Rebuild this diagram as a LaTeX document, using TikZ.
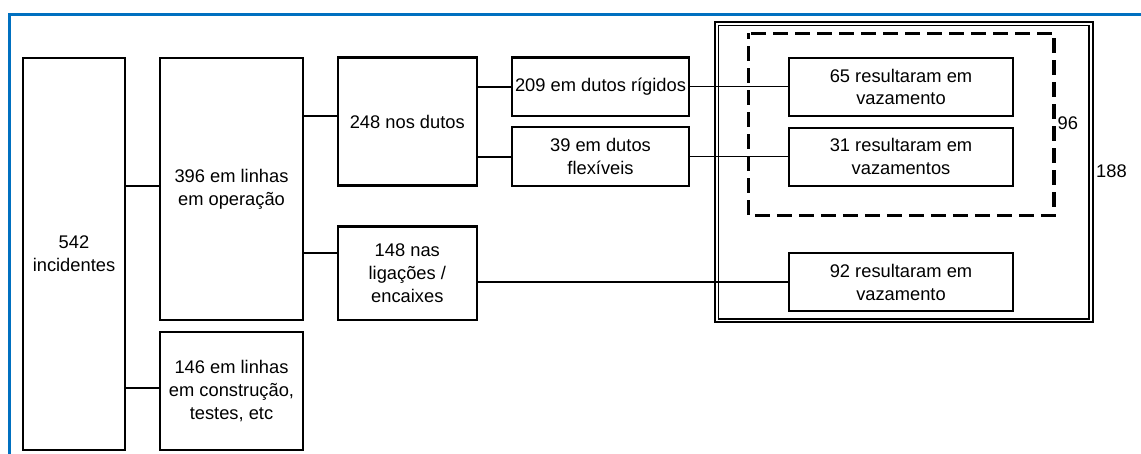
\documentclass[tikz,border=0pt]{standalone}
\usepackage{fontspec}
\setmainfont{Liberation Sans}
\definecolor{frameblue}{RGB}{0,112,192}
\begin{document}
\begin{tikzpicture}[x=1pt,y=-1pt,
  box/.style={draw,line width=2.3pt,inner sep=0pt,align=center,
    font=\fontsize{18.3}{22.7}\selectfont},
  conn/.style={line width=2.3pt},
  thinconn/.style={line width=1.8pt},
  lbl/.style={inner sep=0pt,anchor=west,font=\fontsize{18.3}{22.7}\selectfont}]
\useasboundingbox (0,0) rectangle (1141,454);
% blue frame
\draw[frameblue,line width=2.6pt] (9.7,456) -- (9.7,14.5) -- (1142,14.5);
% outer double frame and dashed group
\draw[line width=2pt] (715,22.5) rectangle (1092.7,322.5);
\draw[line width=1.6pt] (718.4,25.5) rectangle (1089.2,319);
\draw[line width=3.2pt,dash pattern=on 15pt off 7pt,dash phase=9pt] (748.3,33.3) rectangle (1054,215.8);
% boxes
\node[box,minimum width=102pt,minimum height=392pt] (n542) at (74,254) {542\\incidentes};
\node[box,minimum width=143pt,minimum height=262pt] (n396) at (231.5,189) {396 em linhas\\em operação};
\node[box,minimum width=143pt,minimum height=118pt] (n146) at (231.5,391) {146 em linhas\\em construção,\\testes, etc};
\node[box,minimum width=138.7pt,minimum height=128pt] (n248) at (407.3,121.6) {248 nos dutos};
\node[box,minimum width=138.7pt,minimum height=93.3pt] (n148) at (407.3,273.3) {148 nas\\ligações /\\encaixes};
\node[box,minimum width=177pt,minimum height=58.5pt] (n209) at (600.5,86.8) {209 em dutos rígidos};
\node[box,minimum width=177pt,minimum height=58.4pt] (n39) at (600.5,156.5) {39 em dutos\\flexíveis};
\node[box,minimum width=224pt,minimum height=58.6pt] (n65) at (901,87) {65 resultaram em\\vazamento};
\node[box,minimum width=224pt,minimum height=58pt] (n31) at (901,156.7) {31 resultaram em\\vazamentos};
\node[box,minimum width=224pt,minimum height=58pt] (n92) at (901,282.3) {92 resultaram em\\vazamento};
% labels
\node[lbl] (l96) at (1057.5,123) {96};
\node[lbl] (l188) at (1096,171) {188};
% connectors
\draw[conn] (n542.east |- 0,186) -- (n396.west |- 0,186);
\draw[conn] (n542.east |- 0,388) -- (n146.west |- 0,388);
\draw[conn] (n396.east |- 0,116) -- (n248.west |- 0,116);
\draw[conn] (n396.east |- 0,253) -- (n148.west |- 0,253);
\draw[conn] (n248.east |- 0,87) -- (n209.west |- 0,87);
\draw[conn] (n248.east |- 0,157) -- (n39.west |- 0,157);
\draw[thinconn] (n209.east |- 0,86.5) -- (n65.west |- 0,86.5);
\draw[thinconn] (n39.east |- 0,156.5) -- (n31.west |- 0,156.5);
\draw[conn] (n148.east |- 0,282.3) -- (n92.west |- 0,282.3);
\end{tikzpicture}
\end{document}
